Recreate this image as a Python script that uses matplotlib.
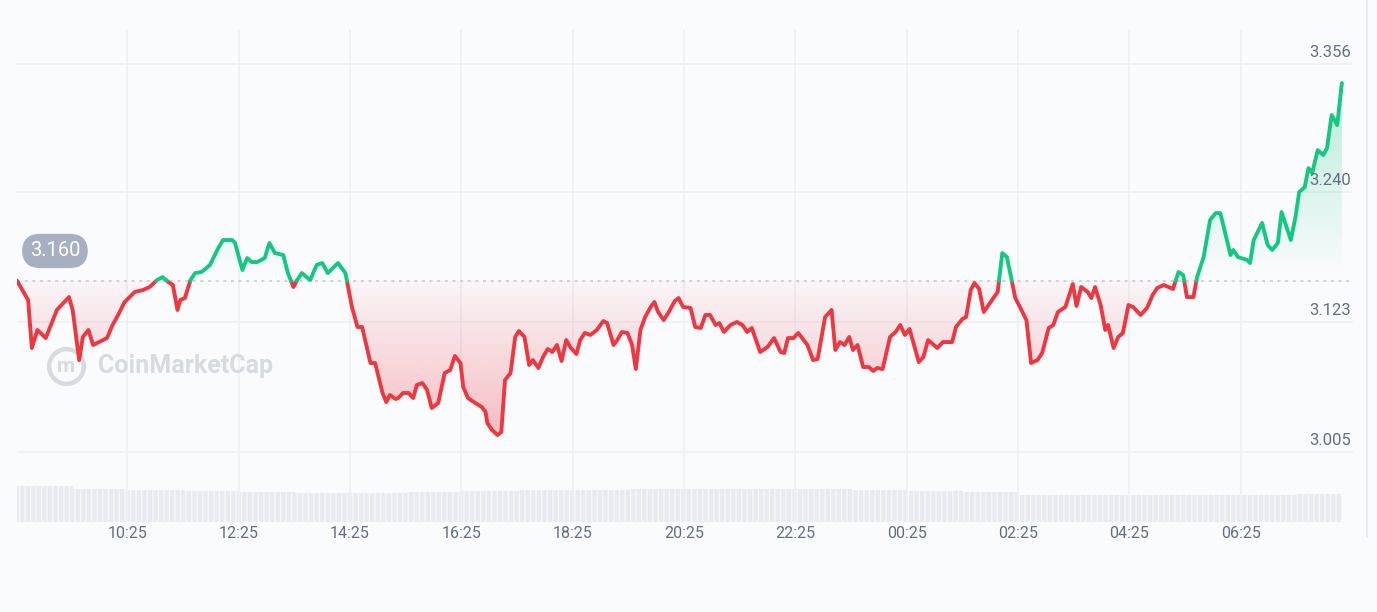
import numpy as np
import matplotlib
matplotlib.use("Agg")
import matplotlib.pyplot as plt
import matplotlib.colors as mcolors
from matplotlib.path import Path
from matplotlib.patches import PathPatch
from matplotlib.lines import Line2D

# minutes after 08:26 (first sample) and price in USD
minutes = [
    0, 9, 12, 16, 22, 31, 43, 56, 60, 67, 71, 77, 82, 97, 103, 109, 116, 127, 136, 143,
    151, 157, 163, 168, 173, 176, 181, 187, 192, 199, 208, 217, 222, 232, 235, 243, 248, 253, 259, 267,
    272, 278, 287, 292, 298, 302, 307, 316, 323, 329, 335, 346, 354, 361, 367, 372, 381, 386, 394, 398,
    402, 408, 411, 416, 422, 427, 431, 437, 442, 447, 454, 461, 467, 472, 478, 481, 486, 494, 501, 505,
    507, 512, 518, 522, 526, 532, 537, 541, 547, 552, 556, 562, 567, 572, 577, 582, 587, 592, 597, 603,
    607, 612, 618, 625, 632, 636, 643, 647, 652, 658, 663, 667, 672, 677, 683, 687, 691, 697, 702, 709,
    713, 718, 726, 731, 737, 742, 747, 753, 757, 762, 769, 776, 782, 787, 792, 801, 809, 816, 823, 827,
    831, 837, 842, 852, 858, 863, 871, 878, 882, 887, 892, 897, 901, 906, 912, 918, 923, 927, 933, 941,
    947, 952, 957, 962, 972, 977, 982, 992, 998, 1008, 1012, 1019, 1023, 1028, 1032, 1037, 1042, 1051, 1057, 1062,
    1067, 1076, 1081, 1088, 1093, 1100, 1105, 1112, 1117, 1122, 1130, 1138, 1142, 1147, 1154, 1158, 1162, 1168, 1173, 1176,
    1182, 1187, 1192, 1198, 1203, 1211, 1218, 1224, 1229, 1236, 1241, 1246, 1252, 1257, 1261, 1268, 1272, 1279, 1286, 1292,
    1297, 1308, 1311, 1316, 1326, 1329, 1333, 1342, 1348, 1353, 1359, 1363, 1373, 1378, 1382, 1388, 1392, 1396, 1402, 1408,
    1412, 1417, 1423, 1428,
]
prices = [
    3.1600, 3.1470, 3.1425, 3.0991, 3.1154, 3.1081, 3.1335, 3.1452, 3.1335, 3.0882,
    3.1091, 3.1154, 3.1018, 3.1081, 3.1199, 3.1290, 3.1407, 3.1498, 3.1516, 3.1543,
    3.1606, 3.1633, 3.1588, 3.1561, 3.1335, 3.1425, 3.1443, 3.1606, 3.1669, 3.1679,
    3.1742, 3.1896, 3.1968, 3.1968, 3.1941, 3.1697, 3.1805, 3.1769, 3.1769, 3.1805,
    3.1941, 3.1850, 3.1832, 3.1669, 3.1543, 3.1606, 3.1669, 3.1606, 3.1742, 3.1760,
    3.1669, 3.1760, 3.1669, 3.1362, 3.1181, 3.1181, 3.0855, 3.0855, 3.0584, 3.0502,
    3.0566, 3.0530, 3.0539, 3.0584, 3.0584, 3.0539, 3.0656, 3.0674, 3.0611, 3.0448,
    3.0493, 3.0765, 3.0792, 3.0919, 3.0855, 3.0638, 3.0539, 3.0493, 3.0457, 3.0412,
    3.0312, 3.0249, 3.0204, 3.0231, 3.0702, 3.0765, 3.1091, 3.1145, 3.1091, 3.0837,
    3.0882, 3.0810, 3.0910, 3.0982, 3.0955, 3.1018, 3.0873, 3.1063, 3.0991, 3.0937,
    3.1063, 3.1127, 3.1109, 3.1154, 3.1235, 3.1217, 3.1018, 3.1063, 3.1136, 3.1127,
    3.1018, 3.0801, 3.1154, 3.1271, 3.1362, 3.1407, 3.1317, 3.1244, 3.1308, 3.1416,
    3.1443, 3.1362, 3.1353, 3.1181, 3.1172, 3.1290, 3.1290, 3.1199, 3.1217, 3.1136,
    3.1199, 3.1226, 3.1199, 3.1136, 3.1172, 3.0955, 3.1000, 3.1081, 3.0955, 3.0946,
    3.1081, 3.1081, 3.1127, 3.1018, 3.0882, 3.0891, 3.1271, 3.1335, 3.0973, 3.1045,
    3.1018, 3.1091, 3.0973, 3.1018, 3.0819, 3.0819, 3.0783, 3.0810, 3.0801, 3.1091,
    3.1136, 3.1199, 3.1109, 3.1163, 3.0864, 3.0910, 3.1063, 3.0991, 3.1045, 3.1045,
    3.1181, 3.1253, 3.1271, 3.1516, 3.1579, 3.1525, 3.1317, 3.1425, 3.1498, 3.1850,
    3.1814, 3.1443, 3.1362, 3.1244, 3.0855, 3.0882, 3.0946, 3.1172, 3.1199, 3.1317,
    3.1362, 3.1570, 3.1371, 3.1543, 3.1498, 3.1443, 3.1543, 3.1380, 3.1154, 3.1199,
    3.0991, 3.1091, 3.1127, 3.1380, 3.1362, 3.1290, 3.1353, 3.1470, 3.1534, 3.1561,
    3.1543, 3.1525, 3.1679, 3.1651, 3.1452, 3.1452, 3.1633, 3.1814, 3.2149, 3.2212,
    3.2212, 3.1832, 3.1878, 3.1814, 3.1787, 3.1760, 3.1968, 3.2122, 3.1923, 3.1878,
    3.1941, 3.2221, 3.1968, 3.2176, 3.2402, 3.2447, 3.2619, 3.2574, 3.2782, 3.2737,
    3.2800, 3.3099, 3.3008, 3.3388,
]
open_price = 3.160
price_ticks = [3.005, 3.123, 3.240, 3.356]

# hourly traded volume (USD millions), hour 0 starts at 08:26
volume = [236, 219, 210, 203, 198, 193, 191, 196, 203, 208, 213, 216,
          216, 216, 214, 210, 203, 196, 180, 179, 179, 179, 180, 183]

start_label = "08:26"
time_labels = ["10:25", "12:25", "14:25", "16:25", "18:25", "20:25",
               "22:25", "00:25", "02:25", "04:25", "06:25"]

RED = "#ea3943"
GREEN = "#16c784"
BG = "#fafbfd"
GRID = "#eef0f4"
TXT = "#616e85"

plt.rcParams["font.family"] = ["Roboto", "DejaVu Sans"]


def to_min(label):
    h, m = label.split(":")
    return int(h) * 60 + int(m)


def offsets(labels, start):
    s = to_min(start)
    out = []
    for lab in labels:
        d = to_min(lab) - s
        if d < 0:
            d += 1440
        out.append(d)
    return out


def gradient_fill(ax, t, p, base, where, color, a_lo, a_hi, y_lo, y_hi):
    poly = ax.fill_between(t, p, base, where=where, interpolate=True,
                           facecolor="none", edgecolor="none")
    path = Path.make_compound_path(*poly.get_paths())
    patch = PathPatch(path, transform=ax.transData, facecolor="none", edgecolor="none")
    ax.add_patch(patch)
    grad = np.zeros((256, 1, 4))
    grad[..., :3] = mcolors.to_rgb(color)
    grad[..., 3] = np.linspace(a_lo, a_hi, 256)[:, None]
    im = ax.imshow(grad, extent=(t.min(), t.max(), y_lo, y_hi), origin="lower",
                   aspect="auto", zorder=1, interpolation="bilinear")
    im.set_clip_path(patch)


t = np.array(minutes, dtype=float)
p = np.array(prices)

# add the points where the line crosses the opening price, so colours meet
tt, pp = [t[0]], [p[0]]
for i in range(1, len(t)):
    a, b = p[i - 1] - open_price, p[i] - open_price
    if a * b < 0:
        f = a / (a - b)
        tt.append(t[i - 1] + f * (t[i] - t[i - 1]))
        pp.append(open_price)
    tt.append(t[i])
    pp.append(p[i])
tt, pp = np.array(tt), np.array(pp)

fig = plt.figure(figsize=(13.77, 6.12), dpi=100, facecolor=BG)
pos = [17 / 1377, 90 / 612, 1336 / 1377, 492 / 612]

# volume strip underneath
axv = fig.add_axes(pos, zorder=0)
axv.set_facecolor(BG)
plt.rcParams["hatch.color"] = "#f6f7f9"
plt.rcParams["hatch.linewidth"] = 1.0
vx = np.arange(len(volume)) * 60
vw = np.diff(np.append(vx, minutes[-1]))
axv.bar(vx, volume, width=vw, align="edge", color="#e8eaef", hatch="|||",
        edgecolor="#f6f7f9", linewidth=0)
axv.set_xlim(0, 1440)
axv.set_ylim(0, 236 * 492 / 36)
axv.axis("off")

ax = fig.add_axes(pos, zorder=1)
ax.set_facecolor("none")
for s in ax.spines.values():
    s.set_visible(False)

tick_pos = offsets(time_labels, start_label)
for x in tick_pos:
    ax.axvline(x, color=GRID, lw=1.2, zorder=0)
for y in price_ticks:
    ax.axhline(y, color=GRID, lw=1.2, zorder=0)
    ax.annotate(f"{y:.3f}", xy=(1, y), xycoords=("axes fraction", "data"),
                xytext=(-2, 4), textcoords="offset pixels", ha="right", va="bottom",
                fontsize=12, color=TXT, zorder=5)

# watermark
ax.plot([0.0366], [0.317], transform=ax.transAxes, marker="o", markersize=25,
        markerfacecolor="none", markeredgecolor="#d6dae1", markeredgewidth=3.2, zorder=0)
ax.text(0.0366, 0.317, "m", transform=ax.transAxes, ha="center", va="center",
        fontsize=15, fontweight="bold", color="#d6dae1", zorder=0)
ax.text(0.061, 0.317, "CoinMarketCap", transform=ax.transAxes, ha="left", va="center",
        fontsize=18, fontweight="bold", color="#d6dae1", zorder=0)

gradient_fill(ax, t, p, open_price, p <= open_price, RED, 0.32, 0.03, 3.02, open_price)
gradient_fill(ax, t, p, open_price, p >= open_price, GREEN, 0.0, 0.30, 3.165, 3.34)

ax.axhline(open_price, color="#c3c8d2", lw=1.1, ls=(0, (2, 3)), zorder=2)

up = np.ma.masked_where(pp < open_price, pp)
dn = np.ma.masked_where(pp > open_price, pp)
ax.plot(tt, dn, color=RED, lw=2.8, solid_joinstyle="round", solid_capstyle="round", zorder=3)
ax.plot(tt, up, color=GREEN, lw=2.8, solid_joinstyle="round", solid_capstyle="round", zorder=3)

ax.text(0.0284, 0.551, f"{open_price:.3f}", transform=ax.transAxes, ha="center", va="center",
        fontsize=14.5, color="white", zorder=6,
        bbox=dict(boxstyle="round,pad=0.38,rounding_size=0.9", facecolor="#a7b0c0",
                  edgecolor="none"))

ax.set_xlim(0, 1440)
ax.set_ylim(2.9417, 3.3868)
ax.set_xticks(tick_pos)
ax.set_xticklabels(time_labels)
ax.set_yticks([])
ax.tick_params(axis="x", length=0, pad=3, labelsize=11.5, labelcolor=TXT)

fig.add_artist(Line2D([1367 / 1377, 1367 / 1377], [75 / 612, 1.0], color="#e4e7ec", lw=1.2))

fig.savefig("out.png", dpi=100, facecolor=BG)
